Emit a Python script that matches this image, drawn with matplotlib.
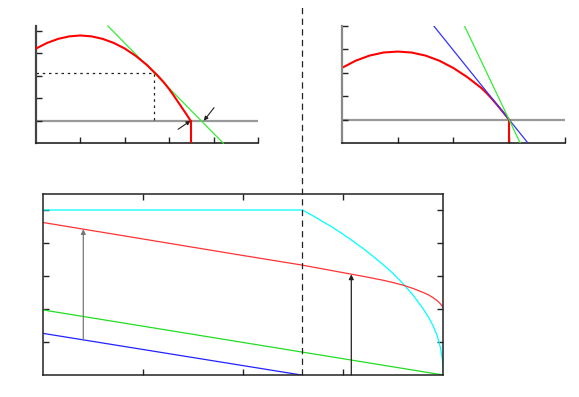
import matplotlib
matplotlib.use("Agg")
import matplotlib.pyplot as plt

# ---------------- data ----------------
# top-left panel
tl_red_x = [0, 0.25, 0.5, 0.75, 1.0, 1.25, 1.5, 1.75, 2.0, 2.25, 2.5, 2.75,
            2.875, 3.0, 3.1, 3.2, 3.3, 3.4, 3.48]
tl_red_y = [3.20, 3.45, 3.63, 3.74, 3.78, 3.74, 3.63, 3.45, 3.20, 2.87, 2.47, 1.98,
            1.71, 1.40, 1.12, 0.83, 0.54, 0.25, 0.0]
tl_green_x = [1.62, 4.22]
tl_green_y = [4.2, -1.0]
tl_tangent = (2.66, 2.13)
tl_root_red = 3.48
tl_root_green = 3.78
tl_arrow_a_tail = (3.2, -0.38)
tl_arrow_b_tail = (4.01, 0.58)

# top-right panel
tr_red_x = [0, 0.25, 0.5, 0.75, 1.0, 1.25, 1.5, 1.75, 2.0, 2.25, 2.5,
            2.6, 2.7, 2.8, 2.9, 3.0]
tr_red_y = [2.21, 2.52, 2.74, 2.87, 2.91, 2.87, 2.74, 2.52, 2.21, 1.82, 1.36,
            1.13, 0.87, 0.59, 0.30, 0.0]
tr_blue_x = [1.65, 3.34]
tr_blue_y = [4.0, -1.0]
tr_green_x = [2.2, 3.2]
tr_green_y = [4.0, -1.0]
tr_root = 3.0

# bottom panel
b_cyan_x = [0, 2.59, 2.7, 2.8, 2.9, 3.0, 3.1, 3.2, 3.3, 3.4, 3.5, 3.6, 3.7,
            3.8, 3.85, 3.9, 3.94, 3.97, 3.99, 4.0]
b_cyan_y = [5.0, 5.0, 4.82, 4.64, 4.46, 4.26, 4.05, 3.83, 3.59, 3.34, 3.07, 2.76, 2.41,
            2.0, 1.76, 1.48, 1.18, 0.85, 0.5, 0.0]
b_red_x = [0, 1, 2, 2.59, 3.0, 3.2, 3.4, 3.5, 3.6, 3.7, 3.8, 3.85, 3.9, 3.94,
           3.97, 4.0]
b_red_y = [4.62, 4.12, 3.62, 3.33, 3.10, 2.99, 2.87, 2.80, 2.72, 2.62, 2.50, 2.43,
           2.34, 2.25, 2.16, 2.05]
b_green_x = [0, 4.0]
b_green_y = [1.97, 0.0]
b_blue_x = [0, 2.58]
b_blue_y = [1.26, 0.0]
b_split = 2.59
b_arrow1 = (0.4, 1.06, 4.42)
b_arrow2 = (3.08, 0.0, 3.05)

# ---------------- figure ----------------
fig = plt.figure(figsize=(5.79, 3.97), dpi=100)

DARK = "#222222"
GRAY = "#999999"


def style_top(ax, left_color):
    ax.spines["top"].set_visible(False)
    ax.spines["right"].set_visible(False)
    ax.spines["left"].set_color(left_color)
    ax.spines["left"].set_linewidth(1.6)
    ax.spines["bottom"].set_color(DARK)
    ax.spines["bottom"].set_linewidth(1.2)
    ax.tick_params(direction="in", length=4.5, width=1, color=DARK,
                   labelbottom=False, labelleft=False)


# top-left
ax1 = fig.add_axes([36 / 579, 1 - 143.3 / 397, 222 / 579, 117.3 / 397])
ax1.set_xlim(0, 5)
ax1.set_ylim(-1, 4.2)
ax1.set_xticks([1, 2, 3, 4, 5])
ax1.set_yticks([0, 1, 2, 3, 4])
style_top(ax1, "#444444")
ax1.axhline(0, color=GRAY, lw=1.6, zorder=1)
ax1.plot([0, tl_tangent[0], tl_tangent[0]], [tl_tangent[1], tl_tangent[1], 0],
         color=DARK, lw=0.9, ls=(0, (2, 3)), zorder=2)
ax1.plot(tl_green_x, tl_green_y, color="#33ee33", lw=0.9, zorder=3, clip_on=False)
ax1.plot(tl_red_x, tl_red_y, color="red", lw=1.5, zorder=4,
         solid_joinstyle="round")
ax1.plot([tl_root_red, tl_root_red], [0, -1], color="red", lw=1.5, zorder=4)
ax1.annotate("", xy=(tl_root_red, 0), xytext=tl_arrow_a_tail,
             arrowprops=dict(arrowstyle="-|>", lw=0.8, color=DARK,
                             mutation_scale=6, shrinkA=0, shrinkB=0))
ax1.annotate("", xy=(tl_root_green, 0), xytext=tl_arrow_b_tail,
             arrowprops=dict(arrowstyle="-|>", lw=0.8, color=DARK,
                             mutation_scale=6, shrinkA=0, shrinkB=0))

# top-right
ax2 = fig.add_axes([341.7 / 579, 1 - 143.3 / 397, 223.3 / 579, 117.3 / 397])
ax2.set_xlim(0, 4)
ax2.set_ylim(-1, 4)
ax2.set_xticks([1, 2, 3, 4])
ax2.set_yticks([0, 1, 2, 3, 4])
style_top(ax2, "#888888")
ax2.axhline(0, color=GRAY, lw=1.6, zorder=1)
ax2.plot(tr_blue_x, tr_blue_y, color="#3333ff", lw=0.9, zorder=3)
ax2.plot(tr_green_x, tr_green_y, color="#33ee33", lw=0.9, zorder=3)
ax2.plot(tr_red_x, tr_red_y, color="red", lw=1.5, zorder=2,
         solid_joinstyle="round")
ax2.plot([tr_root, tr_root], [0, -1], color="red", lw=1.5, zorder=2)

# bottom
ax3 = fig.add_axes([43.3 / 579, 1 - 375 / 397, 400 / 579, 181.5 / 397])
ax3.set_xlim(0, 4)
ax3.set_ylim(0, 5.5)
ax3.set_xticks([1, 2, 3])
ax3.set_yticks([1, 2, 3, 4, 5])
for s in ax3.spines.values():
    s.set_color(DARK)
    s.set_linewidth(1.1)
ax3.tick_params(direction="in", length=4.5, width=1, color=DARK,
                top=True, right=True,
                labelbottom=False, labelleft=False)
ax3.plot(b_cyan_x, b_cyan_y, color="cyan", lw=0.9, solid_joinstyle="round")
ax3.plot(b_red_x, b_red_y, color="#ff3333", lw=0.9, solid_joinstyle="round")
ax3.plot(b_green_x, b_green_y, color="#22dd22", lw=0.9)
ax3.plot(b_blue_x, b_blue_y, color="#2222ff", lw=0.9)
ax3.annotate("", xy=(b_arrow1[0], b_arrow1[2]), xytext=(b_arrow1[0], b_arrow1[1]),
             arrowprops=dict(arrowstyle="-|>", lw=0.9, color="#777777",
                             mutation_scale=7, shrinkA=0, shrinkB=0))
ax3.annotate("", xy=(b_arrow2[0], b_arrow2[2]), xytext=(b_arrow2[0], b_arrow2[1]),
             arrowprops=dict(arrowstyle="-|>", lw=0.9, color=DARK,
                             mutation_scale=7, shrinkA=0, shrinkB=0))
# dashed divider spanning the figure
ax3.plot([b_split, b_split], [0, 11.2], color=DARK, lw=0.9,
         ls=(0, (5, 3.5)), clip_on=False, zorder=5)

fig.savefig("out.png", dpi=100)
